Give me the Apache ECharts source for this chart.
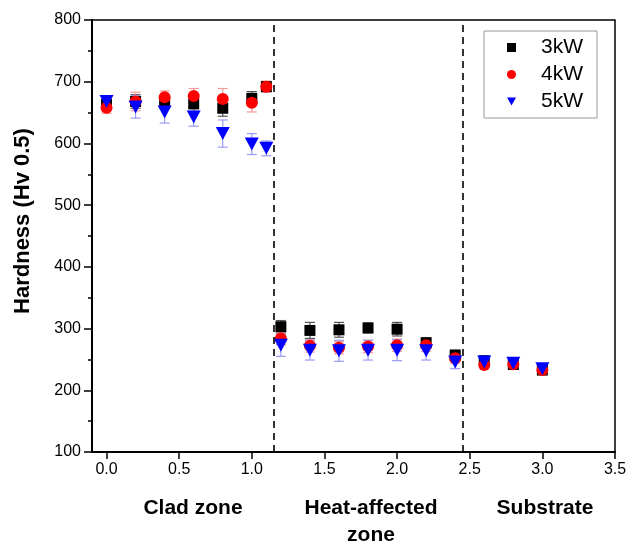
<!DOCTYPE html>
<html><head><meta charset="utf-8">
<script src="https://cdn.jsdelivr.net/npm/echarts@6/dist/echarts.min.js"></script>
<style>html,body{margin:0;padding:0;background:#fff}#c{width:630px;height:541px}</style>
</head><body><div id="c"></div>
<script>
const positions = [0, 0.2, 0.4, 0.6, 0.8, 1.0, 1.1, 1.2, 1.4, 1.6, 1.8, 2.0, 2.2, 2.4, 2.6, 2.8, 3.0];
const hard3kW = [663, 668, 667, 664, 657, 673, 692, 303, 297, 298, 301, 299, 277, 257, 248, 242, 233];
const hard4kW = [658, 668, 675, 677, 672, 666, 692, 284, 272, 269, 271, 273, 273, 252, 241, 242, 233];
const hard5kW = [668, 659, 651, 643, 616, 599, 592, 273, 265, 264, 265, 265, 264, 246, 246, 244, 235];
const err3kW = [8, 11, 10, 12, 13, 11, 8, 10, 13, 12, 8, 11, 8, 8, 6, 8, 8];
const err4kW = [9, 15, 10, 12, 17, 15, 9, 10, 10, 10, 10, 10, 10, 8, 6, 6, 8];
const err5kW = [8, 18, 18, 15, 22, 17, 12, 18, 16, 17, 16, 17, 15, 11, 6, 6, 6];
const xTicks = [0, 0.5, 1.0, 1.5, 2.0, 2.5, 3.0, 3.5];
const zoneBounds = [1.15, 2.45];
const seriesNames = ['3kW', '4kW', '5kW'];
const yTitle = 'Hardness (Hv 0.5)';
const zoneLabels = ['Clad zone', 'Heat-affected', 'zone', 'Substrate'];

const FONT = 'Liberation Sans, Arial, sans-serif';
const tri = 'path://M0,0 L10,0 L5,9 Z';

function errSeries(vals, errs, color) {
  return {
    type: 'custom', silent: true, z: 1,
    data: positions.map((x, i) => [x, vals[i] - errs[i], vals[i] + errs[i]]),
    renderItem: function (params, api) {
      const lo = api.coord([api.value(0), api.value(1)]);
      const hi = api.coord([api.value(0), api.value(2)]);
      const w = 5;
      const st = { stroke: color, lineWidth: 1.2 };
      return { type: 'group', children: [
        { type: 'line', shape: { x1: lo[0], y1: lo[1], x2: hi[0], y2: hi[1] }, style: st },
        { type: 'line', shape: { x1: lo[0] - w, y1: lo[1], x2: lo[0] + w, y2: lo[1] }, style: st },
        { type: 'line', shape: { x1: hi[0] - w, y1: hi[1], x2: hi[0] + w, y2: hi[1] }, style: st }
      ]};
    }
  };
}
function pts(name, vals, color, symbol, size) {
  return {
    name: name, type: 'scatter', z: 3, symbol: symbol, symbolSize: size,
    itemStyle: { color: color, opacity: 1 },
    data: positions.map((x, i) => [x, vals[i]])
  };
}

const chart = echarts.init(document.getElementById('c'), null, { renderer: 'canvas' });
chart.setOption({
  animation: false,
  backgroundColor: '#fff',
  grid: { left: 92, right: 15, top: 20, bottom: 89, show: true, borderColor: '#000', borderWidth: 1.5 },
  legend: {
    left: 484, top: 31, orient: 'vertical',
    data: [
      { name: seriesNames[0], icon: 'rect' },
      { name: seriesNames[1], icon: 'circle' },
      { name: seriesNames[2], icon: tri }
    ],
    itemWidth: 9, itemHeight: 9, itemGap: 6,
    borderColor: '#999', borderWidth: 1,
    padding: [6, 14, 6, 23],
    textStyle: { fontFamily: FONT, fontSize: 21, color: '#000', padding: [0, 0, 0, 20] }
  },
  xAxis: {
    type: 'value', min: -0.1, max: 3.5,
    splitLine: { show: false },
    axisLine: { onZero: false, lineStyle: { color: '#000', width: 2 } },
    axisTick: { show: true, customValues: xTicks, length: 7, lineStyle: { color: '#000', width: 1.5 } },
    axisLabel: { customValues: xTicks, formatter: v => v.toFixed(1), fontFamily: FONT, fontSize: 16, color: '#000', margin: 10 }
  },
  yAxis: {
    type: 'value', min: 100, max: 800, interval: 100,
    splitLine: { show: false },
    axisLine: { onZero: false, lineStyle: { color: '#000', width: 2 } },
    axisTick: { length: 8, lineStyle: { color: '#000', width: 1.5 } },
    minorTick: { show: true, splitNumber: 2, length: 4, lineStyle: { color: '#000', width: 1.5 } },
    axisLabel: { fontFamily: FONT, fontSize: 16, color: '#000', margin: 11 }
  },
  graphic: [
    { type: 'text', x: 23, y: 221, rotation: Math.PI / 2,
      style: { text: yTitle, font: 'bold 22px ' + FONT, fill: '#000', textAlign: 'center', textVerticalAlign: 'middle' } },
    { type: 'text', x: 193, y: 508, style: { text: zoneLabels[0], font: 'bold 21px ' + FONT, fill: '#000', textAlign: 'center', textVerticalAlign: 'middle' } },
    { type: 'text', x: 371, y: 508, style: { text: zoneLabels[1], font: 'bold 21px ' + FONT, fill: '#000', textAlign: 'center', textVerticalAlign: 'middle' } },
    { type: 'text', x: 371, y: 535, style: { text: zoneLabels[2], font: 'bold 21px ' + FONT, fill: '#000', textAlign: 'center', textVerticalAlign: 'middle' } },
    { type: 'text', x: 545, y: 508, style: { text: zoneLabels[3], font: 'bold 21px ' + FONT, fill: '#000', textAlign: 'center', textVerticalAlign: 'middle' } }
  ],
  series: [
    errSeries(hard3kW, err3kW, '#555555'),
    errSeries(hard4kW, err4kW, '#f59a9a'),
    errSeries(hard5kW, err5kW, '#9a9af5'),
    Object.assign(pts(seriesNames[0], hard3kW, '#000000', 'rect', 11), {
      markLine: {
        silent: true, symbol: 'none', label: { show: false },
        lineStyle: { color: '#000', type: [7, 5], width: 1.6 },
        data: zoneBounds.map(v => ({ xAxis: v }))
      }
    }),
    pts(seriesNames[1], hard4kW, '#ff0000', 'circle', 12),
    pts(seriesNames[2], hard5kW, '#0000ff', tri, [14, 13])
  ]
});
</script></body></html>
